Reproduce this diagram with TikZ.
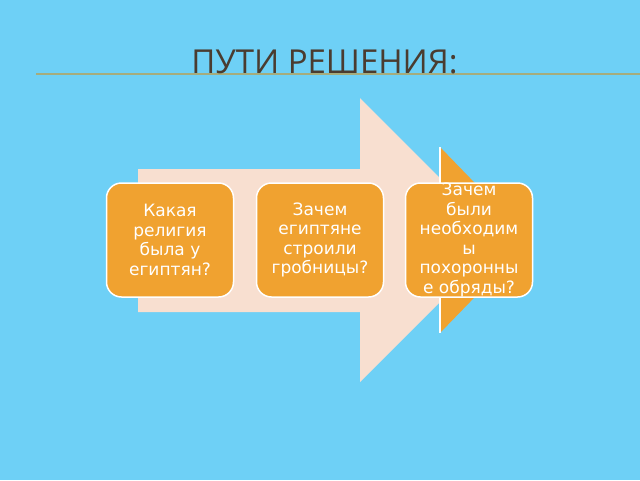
\documentclass[tikz,border=0pt]{standalone}
\usepackage{fontspec}
\setmainfont{Open Sans}
\newfontfamily\boxfont{DejaVu Sans}
\definecolor{bgblue}{RGB}{110,208,246}
\definecolor{peach}{RGB}{248,223,208}
\definecolor{orng}{RGB}{240,162,48}
\definecolor{titlebrown}{RGB}{74,60,48}
\definecolor{olive}{RGB}{165,172,125}
\tikzset{
  qbox/.style={rectangle, rounded corners=15pt, fill=orng, draw=white, line width=1.5pt,
    minimum width=127pt, minimum height=114pt, inner sep=0pt, align=center,
    text=white, font=\boxfont\fontsize{17pt}{19.5pt}\selectfont},
}
\begin{document}
\begin{tikzpicture}[x=1pt,y=-1pt]
\useasboundingbox (0,0) rectangle (640,480);
\fill[bgblue] (0,0) rectangle (640,480);
\coordinate (ls) at (36,74);
\coordinate (le) at (640,74);
\draw[olive, line width=2pt] (ls) -- (le);
\node[anchor=base, text=titlebrown, font=\fontsize{33pt}{38pt}\selectfont, inner sep=0pt] (title) at (324.5,73) {ПУТИ РЕШЕНИЯ:};
\fill[peach] (138,169) -- (360,169) -- (360,98) -- (502,240) -- (360,382) -- (360,312) -- (138,312) -- cycle;
\fill[orng] (440,147) -- (530,240) -- (440,333) -- cycle;
\draw[white, line width=1.5pt] (440,147) -- (440,333);
\node[qbox] (b1) at (170,240) {Какая\\религия\\была у\\египтян?};
\node[qbox] (b2) at (320,240) {Зачем\\египтяне\\строили\\гробницы?};
\node[qbox] (b3) at (469,240) {Зачем\\были\\необходим\\ы\\похоронны\\е обряды?};
\end{tikzpicture}
\end{document}
